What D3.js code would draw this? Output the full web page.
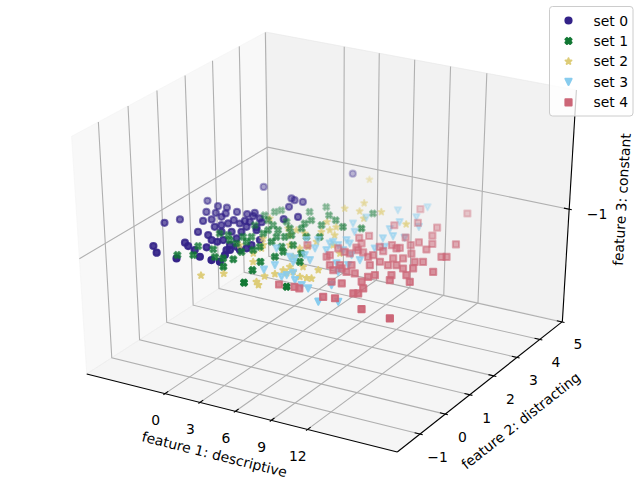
<!DOCTYPE html>
<html><head>
<meta charset="utf-8"/>
<script src="https://d3js.org/d3.v7.min.js"></script>
<style>
  body { margin: 0; background: #fff; }
  svg { display: block; font-family: "DejaVu Sans", sans-serif; }
</style>
</head>
<body>
<svg id="chart" width="640" height="480"></svg>
<script>
// ---- data ----
const setNames = ["set 0", "set 1", "set 2", "set 3", "set 4"];
const setColors = ["#332288", "#117733", "#DDCC77", "#88CCEE", "#CC6677"];
const setMarkers = ["circle", "xfilled", "star", "triangle", "square"];

const set0X = [-3.56,-2.67,-0.86,-5.28,-4.66,-4.87,-3.62,-2.91,-3.06,-3.76,-3.03,-2.64,-2.28,-2.36,-1.80,-0.92,-0.56,-0.33,-2.21,-1.24,-1.67,-1.42,-1.17,-1.15,-0.43,-0.38,0.04,0.33,0.00,0.21,1.13,0.88,-1.92,-1.38,-0.56,0.42,-0.10,1.47,2.15,1.80,1.62,2.25,2.50,-0.52,-0.73,-0.10,0.53,0.34,1.04,-2.71,1.42,1.72,0.31,1.02,0.70,1.41,2.62,1.74,1.31,2.49,2.51,0.84,1.93];
const set0Y = [-0.65,-0.90,-0.95,0.45,0.75,1.85,1.71,1.74,1.39,1.34,0.91,1.06,1.27,1.46,1.64,1.64,1.77,1.61,0.38,0.34,0.76,0.90,1.04,1.24,1.15,1.32,1.32,1.57,0.14,0.27,0.12,0.47,-0.21,-0.32,-0.43,-0.66,-0.20,-0.69,-0.68,-0.35,-0.09,0.00,0.14,0.16,0.61,0.71,0.80,1.07,1.14,3.05,-0.13,0.11,2.79,2.38,2.74,2.74,2.01,4.58,1.02,0.32,0.62,1.42,1.77];

const set1X = [-1.15,-0.16,-0.75,0.51,2.02,2.74,2.84,5.62,4.96,4.66,2.52,-0.68,0.63,1.38,1.85,1.66,0.70,0.31,2.04,3.17,3.07,0.02,1.13,0.62,0.87,1.03,1.86,2.67,2.38,3.24,4.01,3.76,3.24,3.41,4.52,5.07,3.99,3.70,2.86,3.80,4.93,3.43,4.43,5.35,6.46,7.78,7.07,7.09,8.58,6.40,5.11,2.06,5.08,5.12,5.96,1.38];
const set1Y = [-0.80,-0.65,-0.23,-0.22,-0.51,-0.45,-0.85,-1.31,-0.72,-0.30,-0.06,0.52,0.33,0.25,0.42,0.68,1.22,1.76,1.13,0.33,0.13,0.53,0.60,2.01,2.15,1.57,1.40,1.23,1.68,1.42,1.14,1.00,0.92,0.66,0.54,0.05,1.53,1.78,2.35,1.99,1.87,2.74,2.39,2.23,2.00,2.11,2.90,0.07,-1.08,0.44,0.34,0.94,0.72,1.21,1.33,-0.53];

const set2X = [2.32,3.53,4.21,6.28,6.71,1.75,3.40,2.55,3.21,6.70,7.33,7.61,8.48,9.01,9.34,8.99,7.76,4.88,3.45,5.49,4.77,6.00,7.46,10.22,6.97,6.06,5.94,5.58,4.96,3.14,3.84,0.97,3.43,6.30,3.91,4.68,6.18,6.23,5.82,6.74,7.58,8.78,6.20,6.84,6.94];
const set2Y = [-1.42,-1.13,-0.37,-0.86,-1.27,0.21,-0.01,0.72,0.44,-0.67,-0.52,-0.41,-0.55,-0.54,-0.51,-0.10,-0.11,0.69,4.46,3.29,2.85,2.87,3.05,2.73,2.58,1.92,1.73,1.57,2.07,1.40,1.40,1.67,0.28,-1.16,1.12,1.34,0.79,1.09,0.64,1.55,1.10,0.81,0.22,-0.43,-0.23];

const set3X = [5.61,7.36,7.70,10.04,11.83,13.03,7.55,4.37,6.00,6.46,7.51,5.44,6.76,7.64,7.90,7.95,7.27,6.77,7.06,7.68,8.47,9.66,10.37,10.37,11.16,10.64,10.50,10.97,10.06,10.50,11.38,9.64,9.61,8.36,10.21,11.28,9.98,6.17,6.77,6.70,5.86,8.48,9.34,9.50,8.68,7.22];
const set3Y = [-0.59,-0.72,-0.45,-0.95,-1.39,-1.21,0.24,0.42,0.19,0.17,-0.60,1.06,0.79,0.82,1.15,1.45,1.24,2.25,2.64,1.89,1.33,0.85,0.39,0.01,-0.60,0.71,1.35,1.52,1.88,2.07,2.11,2.35,2.76,3.29,3.15,2.73,3.72,1.17,0.40,0.00,-0.30,-0.73,-0.87,0.35,0.98,1.14];

const set4X = [9.70,13.12,12.49,12.93,15.19,13.68,10.83,9.56,8.97,11.42,12.70,12.44,12.00,11.27,10.66,13.81,13.24,11.26,11.00,10.14,8.53,15.40,15.71,14.70,14.19,13.16,12.54,13.35,12.83,12.03,11.71,16.19,14.66,14.84,15.63,13.93,12.91,12.65,11.53,10.88,9.86,9.40,9.61,12.69,13.37,11.62,13.20,13.50,12.53,15.05,17.51,10.86,11.85,9.20,8.94,9.26,10.85,8.32,10.27,9.91,8.27,5.97,7.92,9.06,9.50,11.69,9.24,10.58,8.21,14.26,14.05];
const set4Y = [3.56,3.82,2.88,2.47,2.31,2.10,2.91,2.57,1.85,2.13,2.04,1.84,1.62,1.66,1.47,1.80,1.48,1.32,1.05,1.07,1.67,1.62,1.67,1.23,1.15,1.19,1.10,0.84,0.76,0.83,0.59,0.90,0.86,0.51,0.26,0.37,0.22,0.08,0.10,0.09,0.31,0.90,1.12,-0.18,-0.44,-0.43,-0.73,-0.69,-1.10,-1.29,-1.40,-0.46,1.56,1.45,0.92,1.22,0.93,0.64,0.19,0.04,0.54,0.86,-1.06,-1.01,-1.03,-1.15,0.22,0.42,1.01,0.15,0.76];

const featureZ = -1;   // feature 3 is constant
const setsX = [set0X, set1X, set2X, set3X, set4X];
const setsY = [set0Y, set1Y, set2Y, set3Y, set4Y];

const xTicks = [0, 3, 6, 9, 12];
const yTicks = [-1, 0, 1, 2, 3, 4, 5];
const zTicks = [-1];
const xLimits = [-6.84, 19.26];
const yLimits = [-1.88, 5.02];
const zLimits = [-1.1, -0.9];
const axisTitles = ["feature 1: descriptive", "feature 2: distracting", "feature 3: constant"];

// ---- 3d projection (elev 30, azim -60, perspective) ----
const svg = d3.select("#chart");
const H = 0.595, DIST = 10;
const el = 30 * Math.PI / 180, az = -60 * Math.PI / 180;
const U = [-Math.sin(az), Math.cos(az), 0];
const V = [-Math.sin(el) * Math.cos(az), -Math.sin(el) * Math.sin(az), Math.cos(el)];
const W = [Math.cos(el) * Math.cos(az), Math.cos(el) * Math.sin(az), Math.sin(el)];

const wx = d3.scaleLinear().domain(xLimits).range([-H, H]);
const wy = d3.scaleLinear().domain(yLimits).range([-H, H]);
const wz = d3.scaleLinear().domain(zLimits).range([-H, H]);
const px = d3.scaleLinear().domain([-0.1, 0.1]).range([328.9 - 301.2, 328.9 + 301.2]);
const py = d3.scaleLinear().domain([-0.1, 0.1]).range([233.5 + 227.4, 233.5 - 227.4]);

function projW(p) {
  const dot = a => a[0] * p[0] + a[1] * p[1] + a[2] * p[2];
  const depth = DIST - dot(W);
  return [px(dot(U) / depth), py(dot(V) / depth), depth];
}
const proj = (x, y, z) => projW([wx(x), wy(y), wz(z)]);
const line = d3.line();
const pathOf = pts => line(pts.map(p => proj(...p).slice(0, 2)));

const [x0, x1] = xLimits, [y0, y1] = yLimits, [z0, z1] = zLimits;

// panes
const panes = [
  { pts: [[x0,y0,z0],[x0,y1,z0],[x0,y1,z1],[x0,y0,z1]], fill: "rgba(242,242,242,0.5)" },
  { pts: [[x0,y1,z0],[x1,y1,z0],[x1,y1,z1],[x0,y1,z1]], fill: "rgba(230,230,230,0.5)" },
  { pts: [[x0,y0,z0],[x1,y0,z0],[x1,y1,z0],[x0,y1,z0]], fill: "rgba(236,236,236,0.5)" }
];
svg.append("g").selectAll("path").data(panes).join("path")
  .attr("d", d => pathOf(d.pts) + "Z")
  .attr("fill", d => d.fill)
  .attr("stroke", d => d.fill)
  .attr("stroke-width", 1);

// grid lines
const grid = svg.append("g").attr("fill", "none").attr("stroke", "#b0b0b0").attr("stroke-width", 1.1);
xTicks.forEach(t => grid.append("path").attr("d", pathOf([[t,y0,z0],[t,y1,z0],[t,y1,z1]])));
yTicks.forEach(t => grid.append("path").attr("d", pathOf([[x1,t,z0],[x0,t,z0],[x0,t,z1]])));
zTicks.forEach(t => grid.append("path").attr("d", pathOf([[x0,y0,t],[x0,y1,t],[x1,y1,t]])));

// axis lines and tick marks
const axes = svg.append("g").attr("fill", "none").attr("stroke", "#000").attr("stroke-width", 1.1);
axes.append("path").attr("d", pathOf([[x0,y0,z0],[x1,y0,z0]]));
axes.append("path").attr("d", pathOf([[x1,y0,z0],[x1,y1,z0]]));
axes.append("path").attr("d", pathOf([[x1,y1,z0],[x1,y1,z1]]));
const dyT = (y1 - y0) / 12, dxT = (x1 - x0) / 12;
xTicks.forEach(t => axes.append("path").attr("d", pathOf([[t,y0 - 0.1*dyT,z0],[t,y0 + 0.2*dyT,z0]])));
yTicks.forEach(t => axes.append("path").attr("d", pathOf([[x1 + 0.1*dxT,t,z0],[x1 - 0.2*dxT,t,z0]])));
zTicks.forEach(t => axes.append("path").attr("d", pathOf([[x1 + 0.1*dxT,y1,t],[x1 - 0.2*dxT,y1,t]])));

// tick labels
const fmt = d3.format("d");
const labels = svg.append("g").attr("font-size", 13.9).attr("fill", "#000")
  .attr("text-anchor", "middle").attr("dominant-baseline", "central");
xTicks.forEach(t => {
  const p = projW([wx(t), -H - 0.063, -H - 0.102]);
  labels.append("text").attr("x", p[0]).attr("y", p[1]).text(fmt(t));
});
yTicks.forEach(t => {
  const p = projW([H + 0.066, wy(t), -H - 0.099]);
  labels.append("text").attr("x", p[0]).attr("y", p[1]).text(fmt(t));
});
zTicks.forEach(t => {
  const p = projW([H + 0.100, H + 0.009, wz(t)]);
  labels.append("text").attr("x", p[0]).attr("y", p[1]).text(fmt(t));
});

// axis titles, rotated along their edges
function angle(a, b) { const p = proj(...a), q = proj(...b); return Math.atan2(q[1] - p[1], q[0] - p[0]) * 180 / Math.PI; }
const titleSpecs = [
  { w: [0, -H - 0.150, -H - 0.132], rot: angle([x0,y0,z0],[x1,y0,z0]) },
  { w: [H + 0.144, 0, -H - 0.147], rot: angle([x1,y0,z0],[x1,y1,z0]) },
  { w: [H + 0.116, H + 0.170, 0], rot: angle([x1,y1,z0],[x1,y1,z1]) }
];
titleSpecs.forEach((s, i) => {
  const p = projW(s.w);
  labels.append("text")
    .attr("transform", `translate(${p[0]},${p[1]}) rotate(${s.rot})`)
    .text(axisTitles[i]);
});

// marker shapes (scatter s=20 -> 6.2 px)
const M = 6.2;
function markerPath(type, m) {
  const r = m / 2;
  if (type === "square") return `M${-r},${-r}H${r}V${r}H${-r}Z`;
  if (type === "triangle") return `M0,${r}L${-r},${-r}L${r},${-r}Z`;
  if (type === "star") {
    const pts = d3.range(10).map(k => {
      const rr = k % 2 ? r * 0.381966 : r;
      const a = -Math.PI / 2 + k * Math.PI / 5;
      return [rr * Math.cos(a), rr * Math.sin(a)];
    });
    return line(pts) + "Z";
  }
  if (type === "xfilled") {
    const v = [[-1,-2],[0,-1],[1,-2],[2,-1],[1,0],[2,1],[1,2],[0,1],[-1,2],[-2,1],[-1,0],[-2,-1]];
    return line(v.map(q => [q[0] * m / 4, q[1] * m / 4])) + "Z";
  }
  return `M${r},0A${r},${r} 0 1,1 ${-r},0A${r},${r} 0 1,1 ${r},0Z`;
}

// scatter collections with depth shading
const series = setNames.map((name, i) => {
  const pts = setsX[i].map((x, j) => {
    const p = proj(x, setsY[i][j], featureZ);
    return { sx: p[0], sy: p[1], vz: -DIST / p[2] };
  });
  const ext = d3.extent(pts, d => d.vz);
  const norm = d3.scaleLinear().domain(ext).range([0, 1]);
  pts.forEach(d => d.alpha = 1 - norm(d.vz) * 0.7);
  pts.sort((a, b) => b.vz - a.vz);
  return { i, pts, minVz: d3.min(pts, d => d.vz) };
});
series.sort((a, b) => b.minVz - a.minVz);

series.forEach(s => {
  const g = svg.append("g");
  g.selectAll("path").data(s.pts).join("path")
    .attr("d", markerPath(setMarkers[s.i], M))
    .attr("transform", d => `translate(${d.sx},${d.sy})`)
    .attr("fill", setColors[s.i])
    .attr("fill-opacity", d => d.alpha)
    .attr("stroke", setColors[s.i])
    .attr("stroke-opacity", d => d.alpha)
    .attr("stroke-width", 2)
    .attr("stroke-linejoin", "round");
});

// legend
const legend = svg.append("g");
legend.append("rect")
  .attr("x", 549.5).attr("y", 6.5).attr("width", 83.5).attr("height", 109.5)
  .attr("rx", 3).attr("fill", "#fff").attr("fill-opacity", 0.8)
  .attr("stroke", "#cccccc").attr("stroke-width", 1);
setNames.forEach((name, i) => {
  const y = 20.5 + i * 20.45;
  legend.append("path")
    .attr("d", markerPath(setMarkers[i], M))
    .attr("transform", `translate(568.5,${y})`)
    .attr("fill", setColors[i]).attr("stroke", setColors[i])
    .attr("stroke-width", 2).attr("stroke-linejoin", "round");
  legend.append("text")
    .attr("x", 593.5).attr("y", y)
    .attr("dominant-baseline", "central")
    .attr("font-size", 13.9)
    .text(name);
});
</script>
</body></html>
